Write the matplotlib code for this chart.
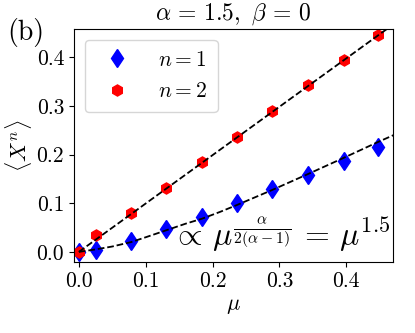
import numpy as np
import matplotlib
matplotlib.use("Agg")
import matplotlib.pyplot as plt

plt.rcParams['font.family'] = 'serif'
plt.rcParams['font.serif'] = ['cmr10']
plt.rcParams['mathtext.fontset'] = 'cm'
plt.rcParams['axes.unicode_minus'] = False

# measured moments
mu = [0.0, 0.025, 0.078, 0.131, 0.184, 0.236, 0.289, 0.343, 0.396, 0.448]
x1 = [0.0, 0.003, 0.023, 0.046, 0.072, 0.101, 0.129, 0.158, 0.187, 0.216]
x2 = [0.0, 0.034, 0.080, 0.132, 0.184, 0.237, 0.289, 0.342, 0.394, 0.446]

# theory curves (dashed)
mu_fit1 = [0.0, 0.025, 0.05, 0.078, 0.10, 0.13, 0.16, 0.184, 0.211, 0.236,
           0.289, 0.343, 0.396, 0.448, 0.471]
fit1 = [0.0, 0.005, 0.011, 0.020, 0.030, 0.044, 0.058, 0.068, 0.082, 0.096,
        0.127, 0.160, 0.193, 0.226, 0.240]
mu_fit2 = [0.0, 0.471]
fit2 = [0.0, 0.468]

fig = plt.figure(figsize=(4.15, 3.33), dpi=100)
ax = fig.add_axes([0.178, 0.213, 0.769, 0.70])

ax.plot(mu, x1, 'd', color='blue', ms=9.5, label=r'$n=1$')
ax.plot(mu, x2, 'h', color='red', ms=8, label=r'$n=2$')
ax.plot(mu_fit1, fit1, 'k--', lw=1.3)
ax.plot(mu_fit2, fit2, 'k--', lw=1.3)

ax.text(0.139, 0.012,
        r'$\propto\,\mu^{\frac{\alpha}{2(\alpha-1)}}\,=\,\mu^{1.5}$',
        fontsize=23, va='baseline')

ax.set_xlim(-0.0075, 0.47)
ax.set_ylim(-0.021, 0.458)
ax.set_xticks([0.0, 0.1, 0.2, 0.3, 0.4])
ax.set_yticks([0.0, 0.1, 0.2, 0.3, 0.4])
ax.tick_params(labelsize=15.5)
ax.set_xlabel(r'$\mu$', fontsize=16)
ax.set_ylabel(r'$\langle X^n\rangle$', fontsize=16, labelpad=2)
ax.set_title(r'$\alpha\,=\,1.5,\ \beta\,=\,0$', fontsize=17, pad=7)
fig.text(0.018, 0.88, '(b)', fontsize=20)

ax.legend(loc='upper left', fontsize=15.5, labelspacing=0.55,
          handletextpad=0.9, borderpad=0.5)

fig.savefig('out.png', dpi=100)
